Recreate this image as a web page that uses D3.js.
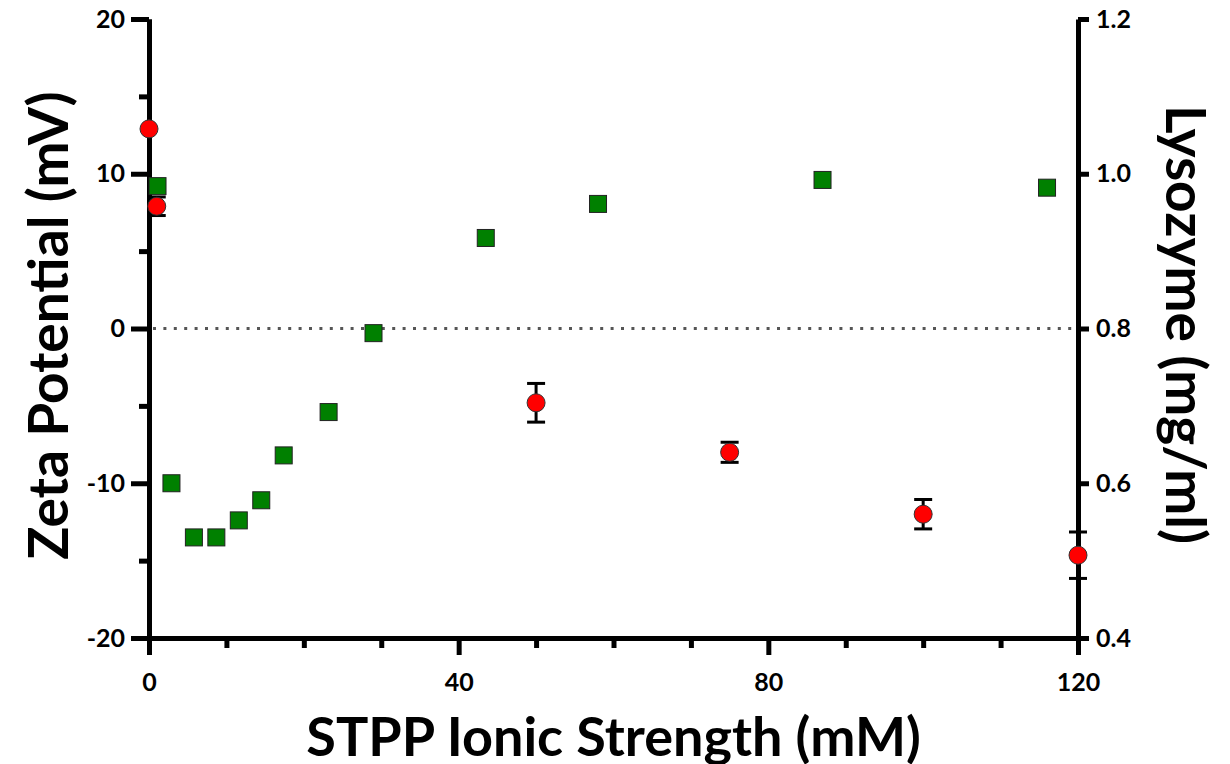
<!DOCTYPE html>
<html>
<head>
<meta charset="utf-8">
<script src="https://cdn.jsdelivr.net/npm/d3@7"></script>
<style>
  body { margin: 0; background: #fff; }
  text { font-family: Lato, "Open Sans", sans-serif; font-weight: bold; fill: #000; }
</style>
</head>
<body>
<div id="chart"></div>
<script>
// zeta potential (left axis, green squares)
const zetaX = [1.1, 2.9, 5.8, 8.7, 11.6, 14.5, 17.4, 23.2, 29, 43.5, 58, 87, 116];
const zetaY = [9.2, -10.0, -13.5, -13.5, -12.4, -11.1, -8.2, -5.4, -0.3, 5.85, 8.05, 9.6, 9.1];

// lysozyme (right axis, red circles with error bars)
const lysoX = [0, 1, 50, 75, 100, 120];
const lysoY = [1.058, 0.958, 0.704, 0.640, 0.560, 0.507];
const lysoErr = [0, 0.012, 0.025, 0.013, 0.019, 0.030];

const xTicks = [0, 40, 80, 120];
const xMinor = [10, 20, 30, 50, 60, 70, 90, 100, 110];
const yLeftTicks = [-20, -10, 0, 10, 20];
const yLeftMinor = [-15, -5, 5, 15];
const yRightTicks = [0.4, 0.6, 0.8, 1.0, 1.2];

const margin = { top: 19, right: 152, bottom: 126, left: 149 };
const width = 1230 - margin.left - margin.right;
const height = 764 - margin.top - margin.bottom;

const svg = d3.select("#chart")
    .append("svg")
    .attr("width", 1230)
    .attr("height", 764)
    .append("g")
    .attr("transform", `translate(${margin.left},${margin.top})`);

const x = d3.scaleLinear().domain([0, 120]).range([0, width]);
const yLeft = d3.scaleLinear().domain([-20, 20]).range([height, 0]);
const yRight = d3.scaleLinear().domain([0.4, 1.2]).range([height, 0]);

function styleAxis(g) {
    g.select(".domain").attr("stroke", "#000").attr("stroke-width", 5);
    g.selectAll(".tick line").attr("stroke", "#000").attr("stroke-width", 5);
    g.selectAll(".tick text")
        .style("font-family", "Lato, 'Open Sans', sans-serif")
        .style("font-weight", "bold")
        .style("font-size", "25px")
        .attr("fill", "#000");
}

// minor ticks first
svg.append("g")
    .attr("transform", `translate(0,${height})`)
    .call(d3.axisBottom(x).tickValues(xMinor).tickSize(10).tickSizeOuter(0).tickFormat(""))
    .call(styleAxis);

svg.append("g")
    .call(d3.axisLeft(yLeft).tickValues(yLeftMinor).tickSize(10).tickSizeOuter(0).tickFormat(""))
    .call(styleAxis);

// major axes
svg.append("g")
    .attr("transform", `translate(0,${height})`)
    .call(d3.axisBottom(x).tickValues(xTicks).tickSize(17).tickSizeOuter(0).tickPadding(18)
        .tickFormat(d => String(d)))
    .call(styleAxis);

svg.append("g")
    .call(d3.axisLeft(yLeft).tickValues(yLeftTicks).tickSize(18).tickSizeOuter(0).tickPadding(6)
        .tickFormat(d => String(d)))
    .call(styleAxis);

svg.append("g")
    .attr("transform", `translate(${width},0)`)
    .call(d3.axisRight(yRight).tickValues(yRightTicks).tickSize(11).tickSizeOuter(0).tickPadding(7)
        .tickFormat(d => d.toFixed(1)))
    .call(styleAxis);

// dotted zero line
svg.append("line")
    .attr("x1", x(0) + 4)
    .attr("x2", x(120) - 4)
    .attr("y1", yLeft(0))
    .attr("y2", yLeft(0))
    .attr("stroke", "#555")
    .attr("stroke-width", 3)
    .attr("stroke-dasharray", "3,7.4");

// axis titles
svg.append("text")
    .attr("transform", "rotate(-90)")
    .attr("x", -height / 2 + 3)
    .attr("y", -margin.left + 68)
    .attr("text-anchor", "middle")
    .style("font-size", "55px")
    .text("Zeta Potential (mV)");

svg.append("text")
    .attr("transform", "rotate(90)")
    .attr("x", height / 2 - 4)
    .attr("y", -(width + 88))
    .attr("text-anchor", "middle")
    .style("font-size", "55px")
    .text("Lysozyme (mg/ml)");

svg.append("text")
    .attr("x", width / 2)
    .attr("y", height + 118)
    .attr("text-anchor", "middle")
    .style("font-size", "54px")
    .text("STPP Ionic Strength (mM)");

// error bars
const lyso = lysoX.map((d, i) => ({ x: d, y: lysoY[i], e: lysoErr[i] }));
const capW = 18;

const eb = svg.selectAll(".err").data(lyso.filter(d => d.e > 0)).enter()
    .append("g").attr("class", "err")
    .attr("stroke", "#000").attr("stroke-width", 3);
eb.append("line")
    .attr("x1", d => x(d.x)).attr("x2", d => x(d.x))
    .attr("y1", d => yRight(d.y - d.e)).attr("y2", d => yRight(d.y + d.e));
eb.append("line")
    .attr("x1", d => x(d.x) - capW / 2).attr("x2", d => x(d.x) + capW / 2)
    .attr("y1", d => yRight(d.y + d.e)).attr("y2", d => yRight(d.y + d.e));
eb.append("line")
    .attr("x1", d => x(d.x) - capW / 2).attr("x2", d => x(d.x) + capW / 2)
    .attr("y1", d => yRight(d.y - d.e)).attr("y2", d => yRight(d.y - d.e));

// red circles
svg.selectAll(".lyso").data(lyso).enter()
    .append("circle")
    .attr("class", "lyso")
    .attr("cx", d => x(d.x))
    .attr("cy", d => yRight(d.y))
    .attr("r", 9)
    .attr("fill", "#ff0000")
    .attr("stroke", "#333")
    .attr("stroke-width", 1);

// green squares
const zeta = zetaX.map((d, i) => ({ x: d, y: zetaY[i] }));
const sq = 17;
svg.selectAll(".zeta").data(zeta).enter()
    .append("rect")
    .attr("class", "zeta")
    .attr("x", d => x(d.x) - sq / 2)
    .attr("y", d => yLeft(d.y) - sq / 2)
    .attr("width", sq)
    .attr("height", sq)
    .attr("fill", "#008000")
    .attr("stroke", "#222")
    .attr("stroke-width", 1);
</script>
</body>
</html>
